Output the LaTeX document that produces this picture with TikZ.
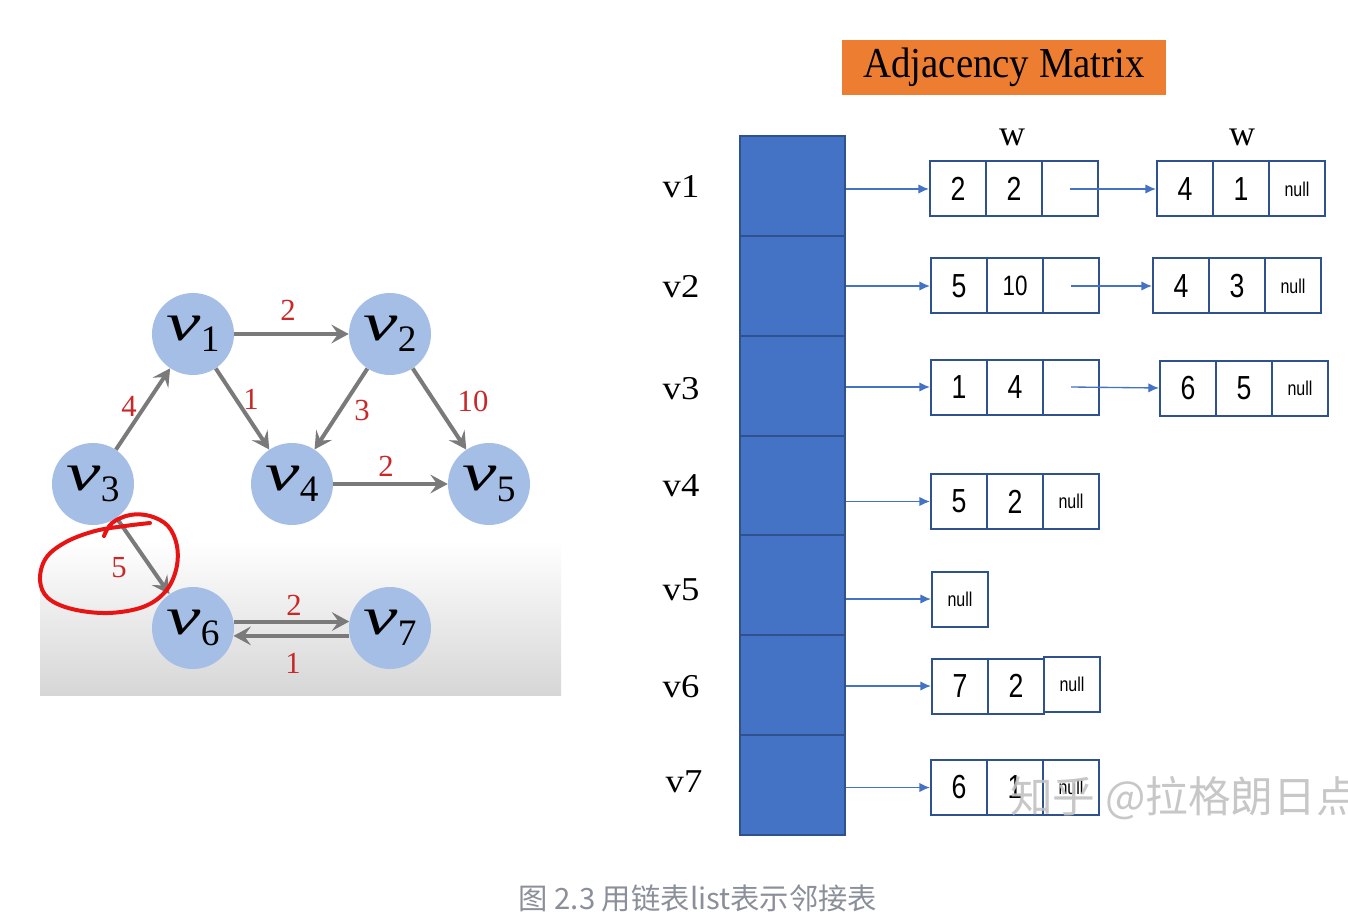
\documentclass[tikz,border=0pt]{standalone}
\usepackage{fontspec}
\usepackage{graphicx}
\setmainfont{Liberation Serif}
\newfontfamily\boxfont[FakeStretch=0.8]{Liberation Sans}
\newfontfamily\cjkfont{Noto Sans CJK SC}
\newfontfamily\narrowserif[FakeStretch=0.91]{Liberation Serif}
\newfontfamily\wideserif[FakeStretch=1.1]{Liberation Serif}
\usetikzlibrary{arrows.meta}
\definecolor{nodeblue}{RGB}{165,190,230}
\definecolor{edgegray}{RGB}{122,122,122}
\definecolor{lblred}{RGB}{200,40,40}
\definecolor{colblue}{RGB}{68,114,196}
\definecolor{darkblue}{RGB}{47,82,143}
\definecolor{hdrorange}{RGB}{237,125,49}
\definecolor{capgray}{RGB}{138,143,153}
\definecolor{ringred}{RGB}{232,20,20}
\newcommand{\vlab}[1]{\scalebox{1.45}[1]{\textit{v}}\raisebox{-0.2em}{\fontsize{28}{30}\selectfont #1}}
\tikzset{
  gnode/.style={circle, fill=nodeblue, minimum size=61.5pt, inner sep=0pt, font=\fontsize{40}{42}\selectfont},
  garrow/.style={draw=edgegray, line width=3pt, -{Stealth[length=13pt,width=14pt,inset=5pt]}},
  wlabel/.style={text=lblred, inner sep=0pt, font=\fontsize{23}{26}\selectfont},
  colcell/.style={draw=darkblue, fill=colblue, line width=1.5pt, minimum width=78.75pt, minimum height=74.9pt, inner sep=0pt},
  rowlab/.style={inner sep=0pt, font=\wideserif\fontsize{25}{28}\selectfont},
  wtop/.style={inner sep=0pt, font=\fontsize{27}{30}\selectfont},
  lcell/.style={draw=darkblue, fill=white, line width=1.5pt, minimum width=42pt, minimum height=41.25pt, inner sep=0pt, font=\boxfont\fontsize{25}{28}\selectfont},
  smallnum/.style={font=\boxfont\fontsize{21}{24}\selectfont},
  nulltxt/.style={font=\boxfont\fontsize{15}{17}\selectfont},
  larrow/.style={draw=colblue, line width=1pt, -{Latex[length=8pt,width=7pt]}},
}
\begin{document}
\begin{tikzpicture}[x=0.75pt,y=-0.75pt]
\useasboundingbox[fill=white] (0,0) rectangle (1348,923);
% grey panel
\shade[top color=white, bottom color=black!16] (40,540) rectangle (561,695);
% graph nodes
\node[gnode] (v1) at (193,334) {\vlab{1}};
\node[gnode] (v2) at (390,334) {\vlab{2}};
\node[gnode] (v3) at (93,484) {\vlab{3}};
\node[gnode] (v4) at (292,484) {\vlab{4}};
\node[gnode] (v5) at (489,484) {\vlab{5}};
\node[gnode] (v6) at (193,628) {\vlab{6}};
\node[gnode] (v7) at (390,628) {\vlab{7}};
% edges
\draw[garrow] (v1) -- (v2);
\draw[garrow] (v1) -- (v4);
\draw[garrow] (v2) -- (v4);
\draw[garrow] (v2) -- (v5);
\draw[garrow] (v3) -- (v1);
\draw[garrow] (v4) -- (v5);
\draw[garrow] (v3) -- (v6);
\draw[garrow] (v6.9) -- (v7.171);
\draw[garrow] (v7.191) -- (v6.-11);
% weights
\node[wlabel] (l12) at (288,310) {2};
\node[wlabel] (l14) at (251,399) {1};
\node[wlabel] (l24) at (362,410) {3};
\node[wlabel] (l25) at (473,401) {10};
\node[wlabel] (l31) at (129,406) {4};
\node[wlabel] (l45) at (386,466) {2};
\node[wlabel] (l36) at (119,568) {5};
\node[wlabel] (l67) at (294,605) {2};
\node[wlabel] (l76) at (293,663) {1};
% red hand-drawn ring
\draw[ringred, line width=3pt, line cap=round, line join=round]
  plot[smooth, tension=0.6] coordinates {(104,536) (112,523) (130,515) (150,516) (168,526) (177,546) (176,570) (165,592) (143,607) (108,613) (72,609) (48,598) (40,580) (46,558) (66,542) (95,531) (125,526) (150,523)};
% header
\node[fill=hdrorange, minimum width=243pt, minimum height=41.25pt, inner sep=0pt, font=\narrowserif\fontsize{32}{34}\selectfont] (hdr) at (1004,67.5) {Adjacency Matrix};
% column
\node[colcell] (c1) at (792.5,185.9) {};
\node[colcell] (c2) at (792.5,285.8) {};
\node[colcell] (c3) at (792.5,385.6) {};
\node[colcell] (c4) at (792.5,485.5) {};
\node[colcell] (c5) at (792.5,585.4) {};
\node[colcell] (c6) at (792.5,685.3) {};
\node[colcell] (c7) at (792.5,785.1) {};
% row labels
\node[rowlab] (r1) at (681,187) {v1};
\node[rowlab] (r2) at (681,287) {v2};
\node[rowlab] (r3) at (681,389) {v3};
\node[rowlab] (r4) at (681,486) {v4};
\node[rowlab] (r5) at (681,590) {v5};
\node[rowlab] (r6) at (681,687) {v6};
\node[rowlab] (r7) at (684,782) {v7};
\node[wtop] (w1) at (1012,137) {w};
\node[wtop] (w2) at (1242,137) {w};
% row 1
\node[lcell] (a11) at (958,189) {2};
\node[lcell] (a12) at (1014,189) {2};
\node[lcell] (a13) at (1070,189) {};
\node[lcell] (a14) at (1185,189) {4};
\node[lcell] (a15) at (1241,189) {1};
\node[lcell, nulltxt] (a16) at (1297,189) {null};
% row 2
\node[lcell] (a21) at (959,286) {5};
\node[lcell, smallnum] (a22) at (1015,286) {10};
\node[lcell] (a23) at (1071,286) {};
\node[lcell] (a24) at (1181,286) {4};
\node[lcell] (a25) at (1237,286) {3};
\node[lcell, nulltxt] (a26) at (1293,286) {null};
% row 3
\node[lcell] (a31) at (959,387) {1};
\node[lcell] (a32) at (1015,387) {4};
\node[lcell] (a33) at (1071,387) {};
\node[lcell] (a34) at (1188,388) {6};
\node[lcell] (a35) at (1244,388) {5};
\node[lcell, nulltxt] (a36) at (1300,388) {null};
% row 4
\node[lcell] (a41) at (959,501.5) {5};
\node[lcell] (a42) at (1015,501.5) {2};
\node[lcell, nulltxt] (a43) at (1071,501.5) {null};
% row 5
\node[lcell, nulltxt] (a51) at (960,599) {null};
% row 6
\node[lcell] (a61) at (960,686) {7};
\node[lcell] (a62) at (1016,686) {2};
\node[lcell, nulltxt] (a63) at (1072,684.5) {null};
% row 7
\node[lcell] (a71) at (959,787.5) {6};
\node[lcell] (a72) at (1015,787.5) {1};
\node[lcell, nulltxt] (a73) at (1071,787.5) {null};
% arrows from column
\draw[larrow] (a11.west -| c1.east) -- (a11.west);
\draw[larrow] (a21.west -| c2.east) -- (a21.west);
\draw[larrow] (a31.west -| c3.east) -- (a31.west);
\draw[larrow] (a41.west -| c4.east) -- (a41.west);
\draw[larrow] (a51.west -| c5.east) -- (a51.west);
\draw[larrow] (a61.west -| c6.east) -- (a61.west);
\draw[larrow] (a71.west -| c7.east) -- (a71.west);
% chain arrows
\draw[larrow] (a13.center) -- (a14.west);
\draw[larrow] (a23.center) -- (a24.west);
\draw[larrow] (a33.center) -- (a34.west);
% watermark
\node[anchor=west, inner sep=0pt, text=black!24, opacity=0.9, font=\cjkfont\fontsize{32}{34}\selectfont] (wm) at (1010,798) {知乎 @拉格朗日点};
% caption
\node[inner sep=0pt, text=capgray, font=\cjkfont\fontsize{22}{26}\selectfont] (cap) at (698,898) {图 2.3 用链表list表示邻接表};
\end{tikzpicture}
\end{document}
